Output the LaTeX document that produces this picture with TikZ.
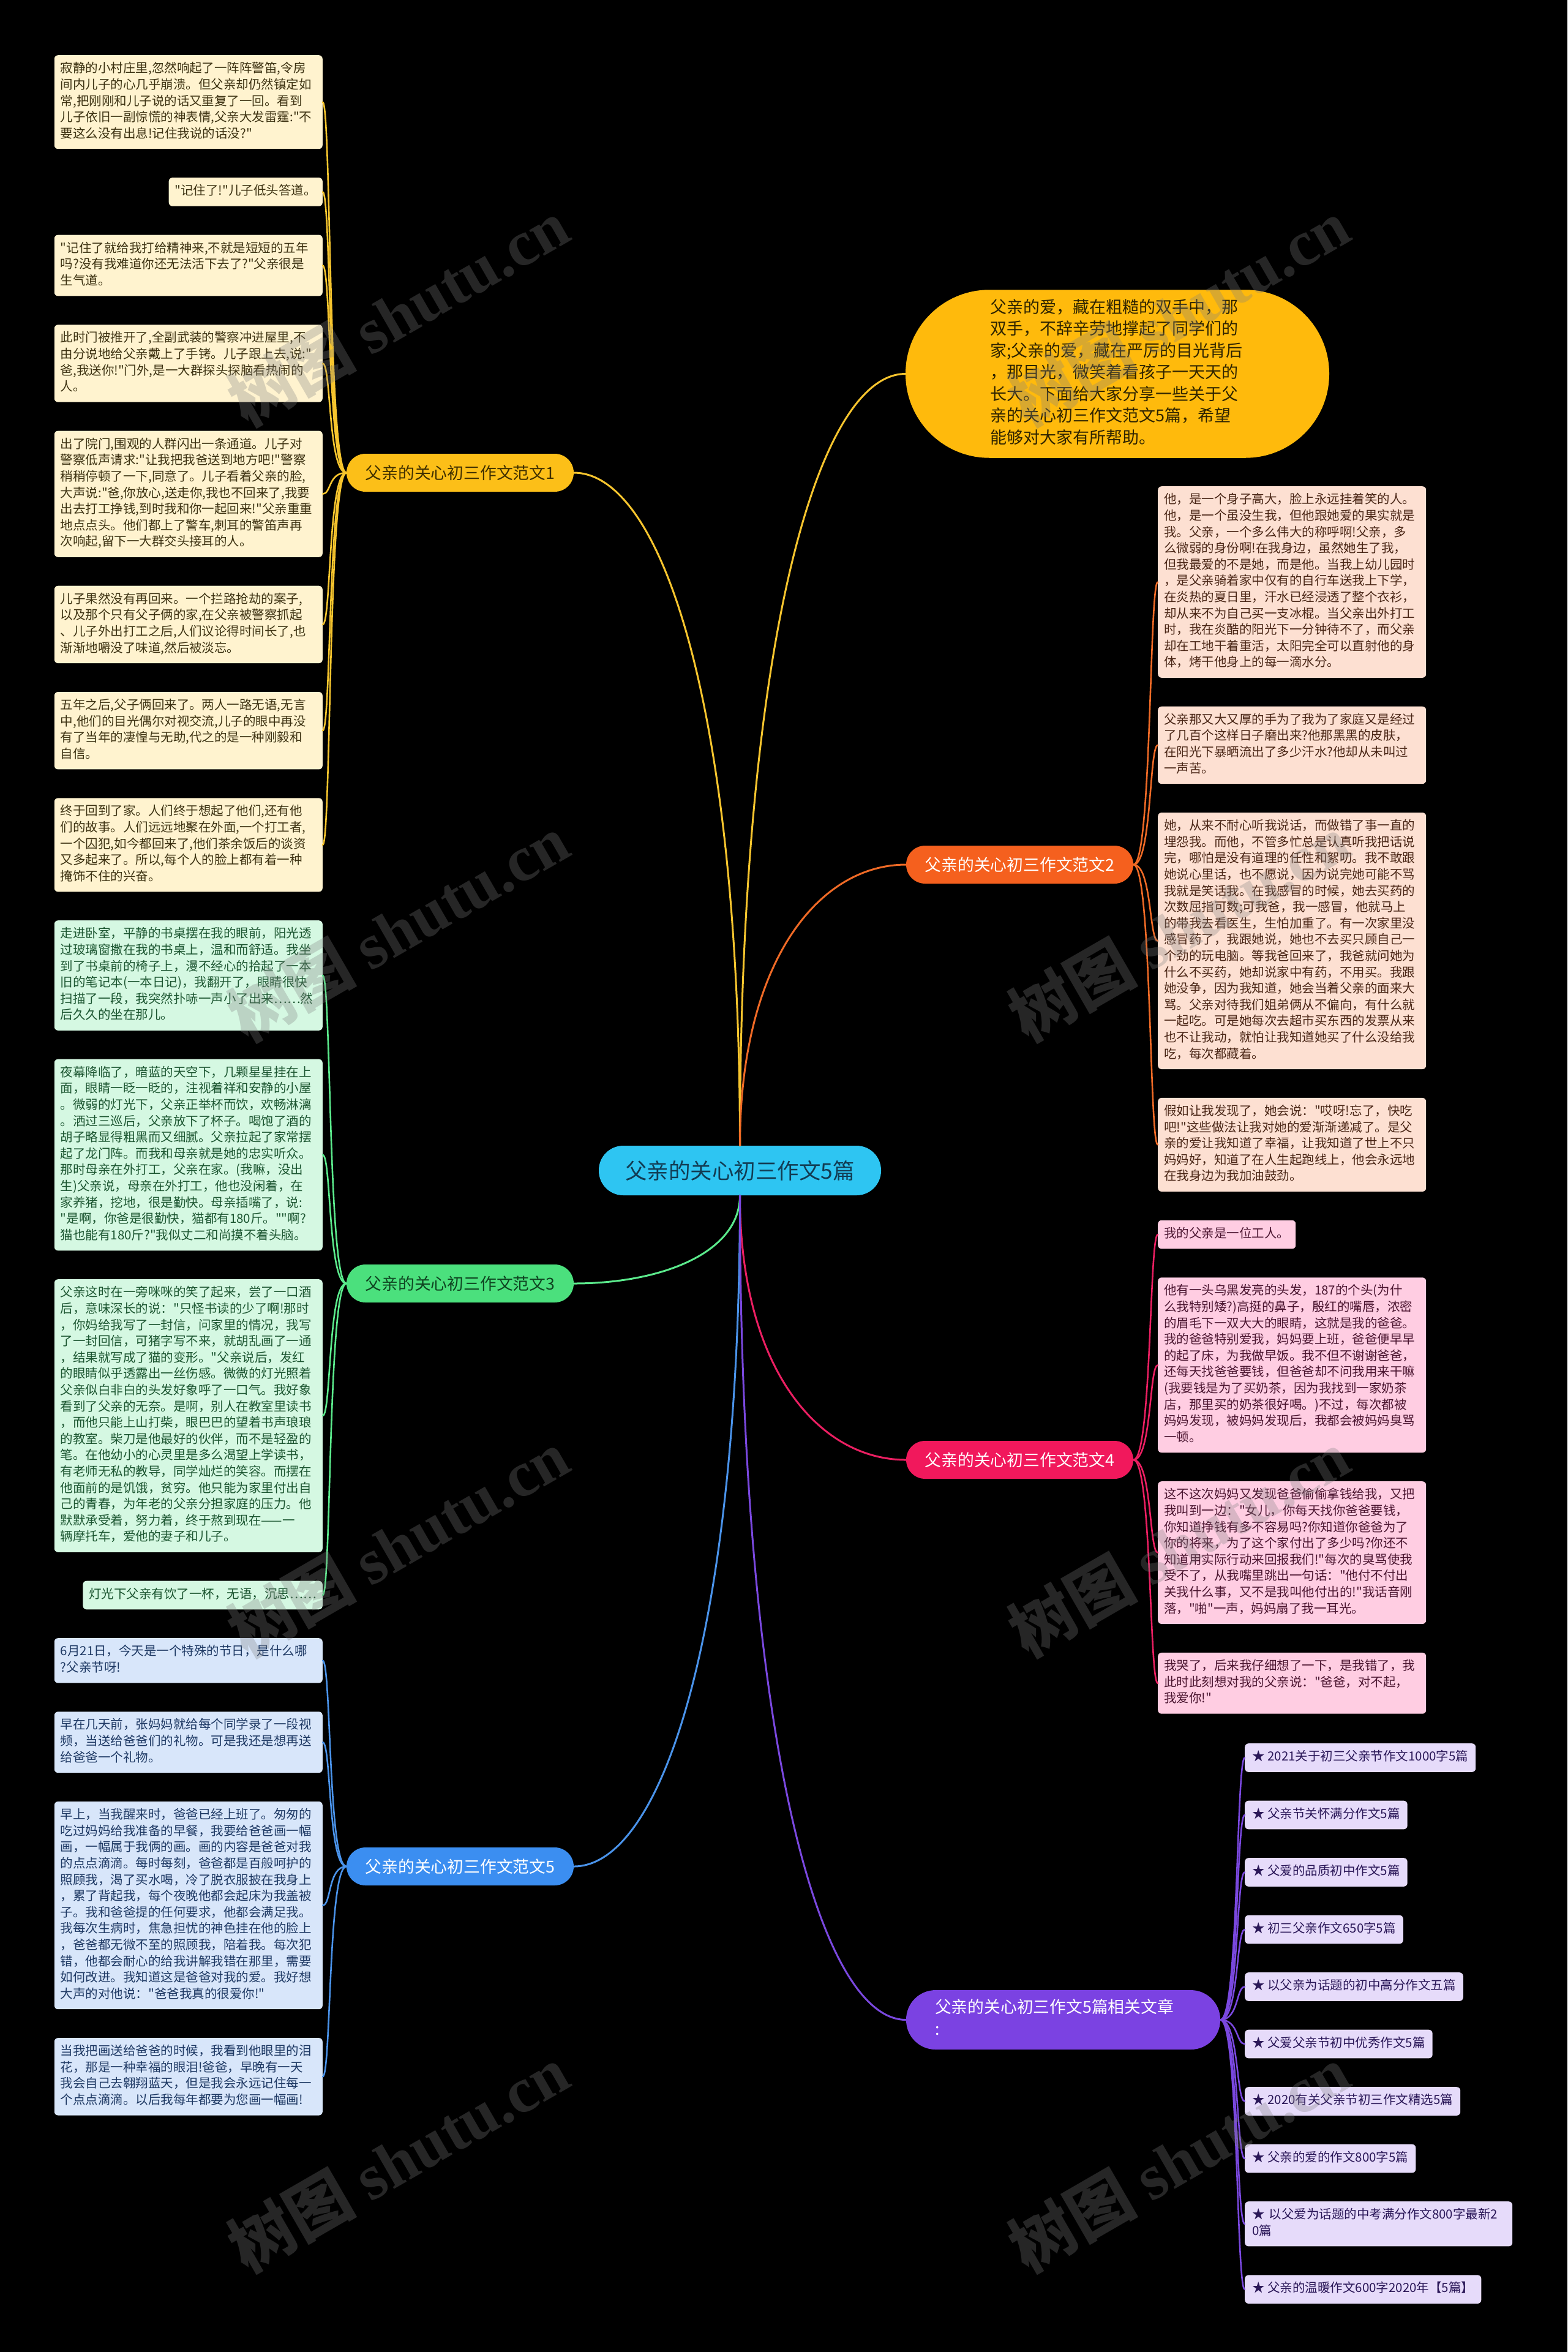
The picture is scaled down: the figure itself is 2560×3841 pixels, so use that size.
\documentclass[tikz,border=0pt]{standalone}
\usepackage{fontspec}
\newfontfamily\cjkfont{Noto Sans CJK SC}
\newfontfamily\wmserif{Liberation Serif}
\usetikzlibrary{positioning, calc}

\definecolor{hubfill}{HTML}{2EC5F2}
\definecolor{hubtext}{HTML}{123C53}
\definecolor{bubblefill}{HTML}{FFBA0C}
\definecolor{bubbletext}{HTML}{2E2300}
\definecolor{ylwtopic}{HTML}{FCBF18}
\definecolor{ylwdark}{HTML}{3F2F00}
\definecolor{ylwline}{HTML}{F7C52E}
\definecolor{ylwleaf}{HTML}{FFF3CF}
\definecolor{ylwtext}{HTML}{3D3212}
\definecolor{orgtopic}{HTML}{F5601E}
\definecolor{orgline}{HTML}{EF6A26}
\definecolor{orgleaf}{HTML}{FDE0D2}
\definecolor{orgtext}{HTML}{4A2616}
\definecolor{grntopic}{HTML}{4BE07D}
\definecolor{grndark}{HTML}{0F4421}
\definecolor{grnline}{HTML}{5BEA8C}
\definecolor{grnleaf}{HTML}{D5F8E2}
\definecolor{grntext}{HTML}{1C5631}
\definecolor{magtopic}{HTML}{F1185C}
\definecolor{magline}{HTML}{EB1F62}
\definecolor{magleaf}{HTML}{FFCDE2}
\definecolor{magtext}{HTML}{4B1530}
\definecolor{blutopic}{HTML}{3B8EF1}
\definecolor{bluline}{HTML}{4A93EA}
\definecolor{bluleaf}{HTML}{D8E6FA}
\definecolor{blutext}{HTML}{1E3964}
\definecolor{purtopic}{HTML}{7B42E2}
\definecolor{purline}{HTML}{7A48DF}
\definecolor{purleaf}{HTML}{E6DBFA}
\definecolor{purtext}{HTML}{2A1758}

\begin{document}
\cjkfont
\begin{tikzpicture}[
	x=1pt, y=-1pt,
	every node/.style={font=\fontsize{20.5}{26.6}\selectfont},
	hub/.style={fill=hubfill, text=hubtext, rounded corners=40pt,
		minimum width=461pt, minimum height=81pt, inner sep=0pt,
		font=\fontsize{35.5}{47}\selectfont},
	topic/.style={rounded corners=31pt, minimum width=371pt,
		minimum height=62pt, inner sep=0pt,
		font=\fontsize{26.8}{36}\selectfont},
	card/.style={rounded corners=6pt, inner xsep=10pt, inner ysep=10pt,
		align=left, execute at begin node=\strut,
		execute at end node=\strut},
	leaf/.style={card, text width=418pt, fill=#1leaf, text=#1text},
	tag/.style={card, fill=#1leaf, text=#1text},
	item/.style={card, inner xsep=12pt, fill=purleaf, text=purtext},
	bubble/.style={fill=bubblefill, text=bubbletext, rounded corners=137pt,
		text width=416pt, align=left, inner xsep=138pt, inner ysep=13pt,
		font=\fontsize{27}{35.5}\selectfont,
		execute at begin node=\strut, execute at end node=\strut},
	hublink/.style={line width=3pt, line cap=round, to path={.. controls
		($(\tikztostart)!0.65!(\tikztostart|-\tikztotarget)$) and
		($(\tikztotarget)!0.53!(\tikztotarget-|\tikztostart)$) ..
		(\tikztotarget)}},
	leftlink/.style={line width=2.6pt, line cap=round, to path={.. controls
		([xshift=-30pt]\tikztostart) and ([xshift=14pt]\tikztotarget) ..
		(\tikztotarget)}},
	rightlink/.style={line width=2.6pt, line cap=round, to path={.. controls
		([xshift=30pt]\tikztostart) and ([xshift=-14pt]\tikztotarget) ..
		(\tikztotarget)}},
	wm/.style={rotate=30, text=gray, opacity=0.3,
		font=\fontsize{105}{105}\selectfont\bfseries},
	]
	% =============================================================
	%  BACKGROUND
	% =============================================================
	\path[use as bounding box, fill=black] (0,0) rectangle (2560,3841);

	% =============================================================
	%  CENTRE, INTRO AND MAIN TOPICS
	% =============================================================
	% --- Centre ---
	\node[hub] (root) at (1208.5,1911.5) {父亲的关心初三作文5篇};

	% --- Intro bubble ---
	\node[bubble] (intro) at (1825,610.5)
	{父亲的爱，藏在粗糙的双手中，那\\
		双手，不辞辛劳地撑起了同学们的\\
		家;父亲的爱，藏在严厉的目光背后\\
		，那目光，微笑着看孩子一天天的\\
		长大。下面给大家分享一些关于父\\
		亲的关心初三作文范文5篇，希望\\
		能够对大家有所帮助。};

	% --- Topics ---
	\node[topic, fill=ylwtopic, text=ylwdark] (t1) at (751.5,772)
	{父亲的关心初三作文范文1};
	\node[topic, fill=orgtopic, text=white] (t2) at (1665.5,1412)
	{父亲的关心初三作文范文2};
	\node[topic, fill=grntopic, text=grndark] (t3) at (751.5,2096)
	{父亲的关心初三作文范文3};
	\node[topic, fill=magtopic, text=white] (t4) at (1665.5,2384)
	{父亲的关心初三作文范文4};
	\node[topic, fill=blutopic, text=white] (t5) at (751.5,3048)
	{父亲的关心初三作文范文5};
	\node[topic, fill=purtopic, text=white, minimum width=513pt,
	minimum height=97pt, rounded corners=48pt, text width=419pt,
	align=left, inner xsep=47pt, execute at begin node=\strut,
	execute at end node=\strut] (t6) at (1736.5,3298.5)
	{父亲的关心初三作文5篇相关文章\\:};

	% =============================================================
	%  LEFT COLUMN
	% =============================================================
	% --- Essay 1 ---
	\node[leaf=ylw, anchor=north east] (l1a) at (527,90)
	{寂静的小村庄里,忽然响起了一阵阵警笛,令房\\
		间内儿子的心几乎崩溃。但父亲却仍然镇定如\\
		常,把刚刚和儿子说的话又重复了一回。看到\\
		儿子依旧一副惊慌的神表情,父亲大发雷霆:"不\\
		要这么没有出息!记住我说的话没?"};
	\node[tag=ylw, below=46.5pt of l1a.south east, anchor=north east] (l1b)
	{"记住了!"儿子低头答道。};
	\node[leaf=ylw, below=46.5pt of l1b.south east, anchor=north east] (l1c)
	{"记住了就给我打给精神来,不就是短短的五年\\
		吗?没有我难道你还无法活下去了?"父亲很是\\
		生气道。};
	\node[leaf=ylw, below=46.5pt of l1c.south east, anchor=north east] (l1d)
	{此时门被推开了,全副武装的警察冲进屋里,不\\
		由分说地给父亲戴上了手铐。儿子跟上去,说:"\\
		爸,我送你!"门外,是一大群探头探脑看热闹的\\
		人。};
	\node[leaf=ylw, below=46.5pt of l1d.south east, anchor=north east] (l1e)
	{出了院门,围观的人群闪出一条通道。儿子对\\
		警察低声请求:"让我把我爸送到地方吧!"警察\\
		稍稍停顿了一下,同意了。儿子看着父亲的脸,\\
		大声说:"爸,你放心,送走你,我也不回来了,我要\\
		出去打工挣钱,到时我和你一起回来!"父亲重重\\
		地点点头。他们都上了警车,刺耳的警笛声再\\
		次响起,留下一大群交头接耳的人。};
	\node[leaf=ylw, below=46.5pt of l1e.south east, anchor=north east] (l1f)
	{儿子果然没有再回来。一个拦路抢劫的案子,\\
		以及那个只有父子俩的家,在父亲被警察抓起\\
		、儿子外出打工之后,人们议论得时间长了,也\\
		渐渐地嚼没了味道,然后被淡忘。};
	\node[leaf=ylw, below=46.5pt of l1f.south east, anchor=north east] (l1g)
	{五年之后,父子俩回来了。两人一路无语,无言\\
		中,他们的目光偶尔对视交流,儿子的眼中再没\\
		有了当年的凄惶与无助,代之的是一种刚毅和\\
		自信。};
	\node[leaf=ylw, below=46.5pt of l1g.south east, anchor=north east] (l1h)
	{终于回到了家。人们终于想起了他们,还有他\\
		们的故事。人们远远地聚在外面,一个打工者,\\
		一个囚犯,如今都回来了,他们茶余饭后的谈资\\
		又多起来了。所以,每个人的脸上都有着一种\\
		掩饰不住的兴奋。};

	% --- Essay 3 ---
	\node[leaf=grn, below=46.5pt of l1h.south east, anchor=north east] (l3a)
	{走进卧室，平静的书桌摆在我的眼前，阳光透\\
		过玻璃窗撒在我的书桌上，温和而舒适。我坐\\
		到了书桌前的椅子上，漫不经心的拾起了一本\\
		旧的笔记本(一本日记)，我翻开了，眼睛很快\\
		扫描了一段，我突然扑哧一声小了出来……然\\
		后久久的坐在那儿。};
	\node[leaf=grn, below=46.5pt of l3a.south east, anchor=north east] (l3b)
	{夜幕降临了，暗蓝的天空下，几颗星星挂在上\\
		面，眼睛一眨一眨的，注视着祥和安静的小屋\\
		。微弱的灯光下，父亲正举杯而饮，欢畅淋漓\\
		。洒过三巡后，父亲放下了杯子。喝饱了酒的\\
		胡子略显得粗黑而又细腻。父亲拉起了家常摆\\
		起了龙门阵。而我和母亲就是她的忠实听众。\\
		那时母亲在外打工，父亲在家。(我嘛，没出\\
		生)父亲说，母亲在外打工，他也没闲着，在\\
		家养猪，挖地，很是勤快。母亲插嘴了，说:\\
		"是啊，你爸是很勤快，猫都有180斤。""啊?\\
		猫也能有180斤?"我似丈二和尚摸不着头脑。};
	\node[leaf=grn, below=46.5pt of l3b.south east, anchor=north east] (l3c)
	{父亲这时在一旁咪咪的笑了起来，尝了一口酒\\
		后，意味深长的说："只怪书读的少了啊!那时\\
		，你妈给我写了一封信，问家里的情况，我写\\
		了一封回信，可猪字写不来，就胡乱画了一通\\
		，结果就写成了猫的变形。"父亲说后，发红\\
		的眼睛似乎透露出一丝伤感。微微的灯光照着\\
		父亲似白非白的头发好象呼了一口气。我好象\\
		看到了父亲的无奈。是啊，别人在教室里读书\\
		，而他只能上山打柴，眼巴巴的望着书声琅琅\\
		的教室。柴刀是他最好的伙伴，而不是轻盈的\\
		笔。在他幼小的心灵里是多么渴望上学读书，\\
		有老师无私的教导，同学灿烂的笑容。而摆在\\
		他面前的是饥饿，贫穷。他只能为家里付出自\\
		己的青春，为年老的父亲分担家庭的压力。他\\
		默默承受着，努力着，终于熬到现在——一\\
		辆摩托车，爱他的妻子和儿子。};
	\node[tag=grn, below=46.5pt of l3c.south east, anchor=north east] (l3d)
	{灯光下父亲有饮了一杯，无语，沉思……};

	% --- Essay 5 ---
	\node[leaf=blu, below=46.5pt of l3d.south east, anchor=north east] (l5a)
	{6月21日，今天是一个特殊的节日，是什么哪\\
		?父亲节呀!};
	\node[leaf=blu, below=46.5pt of l5a.south east, anchor=north east] (l5b)
	{早在几天前，张妈妈就给每个同学录了一段视\\
		频，当送给爸爸们的礼物。可是我还是想再送\\
		给爸爸一个礼物。};
	\node[leaf=blu, below=46.5pt of l5b.south east, anchor=north east] (l5c)
	{早上，当我醒来时，爸爸已经上班了。匆匆的\\
		吃过妈妈给我准备的早餐，我要给爸爸画一幅\\
		画，一幅属于我俩的画。画的内容是爸爸对我\\
		的点点滴滴。每时每刻，爸爸都是百般呵护的\\
		照顾我，渴了买水喝，冷了脱衣服披在我身上\\
		，累了背起我，每个夜晚他都会起床为我盖被\\
		子。我和爸爸提的任何要求，他都会满足我。\\
		我每次生病时，焦急担忧的神色挂在他的脸上\\
		，爸爸都无微不至的照顾我，陪着我。每次犯\\
		错，他都会耐心的给我讲解我错在那里，需要\\
		如何改进。我知道这是爸爸对我的爱。我好想\\
		大声的对他说："爸爸我真的很爱你!"};
	\node[leaf=blu, below=46.5pt of l5c.south east, anchor=north east] (l5d)
	{当我把画送给爸爸的时候，我看到他眼里的泪\\
		花，那是一种幸福的眼泪!爸爸，早晚有一天\\
		我会自己去翱翔蓝天，但是我会永远记住每一\\
		个点点滴滴。以后我每年都要为您画一幅画!};

	% =============================================================
	%  RIGHT COLUMN
	% =============================================================
	% --- Essay 2 ---
	\node[leaf=org, anchor=north west] (r2a) at (1891,794)
	{他，是一个身子高大，脸上永远挂着笑的人。\\
		他，是一个虽没生我，但他跟她爱的果实就是\\
		我。父亲，一个多么伟大的称呼啊!父亲，多\\
		么微弱的身份啊!在我身边，虽然她生了我，\\
		但我最爱的不是她，而是他。当我上幼儿园时\\
		，是父亲骑着家中仅有的自行车送我上下学，\\
		在炎热的夏日里，汗水已经浸透了整个衣衫，\\
		却从来不为自己买一支冰棍。当父亲出外打工\\
		时，我在炎酷的阳光下一分钟待不了，而父亲\\
		却在工地干着重活，太阳完全可以直射他的身\\
		体，烤干他身上的每一滴水分。};
	\node[leaf=org, below=46.5pt of r2a.south west, anchor=north west] (r2b)
	{父亲那又大又厚的手为了我为了家庭又是经过\\
		了几百个这样日子磨出来?他那黑黑的皮肤，\\
		在阳光下暴晒流出了多少汗水?他却从未叫过\\
		一声苦。};
	\node[leaf=org, below=46.5pt of r2b.south west, anchor=north west] (r2c)
	{她，从来不耐心听我说话，而做错了事一直的\\
		埋怨我。而他，不管多忙总是认真听我把话说\\
		完，哪怕是没有道理的任性和絮叨。我不敢跟\\
		她说心里话，也不愿说，因为说完她可能不骂\\
		我就是笑话我。在我感冒的时候，她去买药的\\
		次数屈指可数;可我爸，我一感冒，他就马上\\
		的带我去看医生，生怕加重了。有一次家里没\\
		感冒药了，我跟她说，她也不去买只顾自己一\\
		个劲的玩电脑。等我爸回来了，我爸就问她为\\
		什么不买药，她却说家中有药，不用买。我跟\\
		她没争，因为我知道，她会当着父亲的面来大\\
		骂。父亲对待我们姐弟俩从不偏向，有什么就\\
		一起吃。可是她每次去超市买东西的发票从来\\
		也不让我动，就怕让我知道她买了什么没给我\\
		吃，每次都藏着。};
	\node[leaf=org, below=46.5pt of r2c.south west, anchor=north west] (r2d)
	{假如让我发现了，她会说："哎呀!忘了，快吃\\
		吧!"这些做法让我对她的爱渐渐递减了。是父\\
		亲的爱让我知道了幸福，让我知道了世上不只\\
		妈妈好，知道了在人生起跑线上，他会永远地\\
		在我身边为我加油鼓劲。};

	% --- Essay 4 ---
	\node[tag=mag, below=46.5pt of r2d.south west, anchor=north west] (r4a)
	{我的父亲是一位工人。};
	\node[leaf=mag, below=46.5pt of r4a.south west, anchor=north west] (r4b)
	{他有一头乌黑发亮的头发，187的个头(为什\\
		么我特别矮?)高挺的鼻子，殷红的嘴唇，浓密\\
		的眉毛下一双大大的眼睛，这就是我的爸爸。\\
		我的爸爸特别爱我，妈妈要上班，爸爸便早早\\
		的起了床，为我做早饭。我不但不谢谢爸爸，\\
		还每天找爸爸要钱，但爸爸却不问我用来干嘛\\
		(我要钱是为了买奶茶，因为我找到一家奶茶\\
		店，那里买的奶茶很好喝。)不过，每次都被\\
		妈妈发现，被妈妈发现后，我都会被妈妈臭骂\\
		一顿。};
	\node[leaf=mag, below=46.5pt of r4b.south west, anchor=north west] (r4c)
	{这不这次妈妈又发现爸爸偷偷拿钱给我，又把\\
		我叫到一边："女儿，你每天找你爸爸要钱，\\
		你知道挣钱有多不容易吗?你知道你爸爸为了\\
		你的将来，为了这个家付出了多少吗?你还不\\
		知道用实际行动来回报我们!"每次的臭骂使我\\
		受不了，从我嘴里跳出一句话："他付不付出\\
		关我什么事，又不是我叫他付出的!"我话音刚\\
		落，"啪"一声，妈妈扇了我一耳光。};
	\node[leaf=mag, below=46.5pt of r4c.south west, anchor=north west] (r4d)
	{我哭了，后来我仔细想了一下，是我错了，我\\
		此时此刻想对我的父亲说："爸爸，对不起，\\
		我爱你!"};

	% --- Related articles ---
	\node[item, anchor=north west] (a1) at (2033,2847)
	{★ 2021关于初三父亲节作文1000字5篇};
	\node[item, below=46.5pt of a1.south west, anchor=north west] (a2)
	{★ 父亲节关怀满分作文5篇};
	\node[item, below=46.5pt of a2.south west, anchor=north west] (a3)
	{★ 父爱的品质初中作文5篇};
	\node[item, below=46.5pt of a3.south west, anchor=north west] (a4)
	{★ 初三父亲作文650字5篇};
	\node[item, below=46.5pt of a4.south west, anchor=north west] (a5)
	{★ 以父亲为话题的初中高分作文五篇};
	\node[item, below=46.5pt of a5.south west, anchor=north west] (a6)
	{★ 父爱父亲节初中优秀作文5篇};
	\node[item, below=46.5pt of a6.south west, anchor=north west] (a7)
	{★ 2020有关父亲节初三作文精选5篇};
	\node[item, below=46.5pt of a7.south west, anchor=north west] (a8)
	{★ 父亲的爱的作文800字5篇};
	\node[item, text width=413pt, below=46.5pt of a8.south west,
	anchor=north west] (a9)
	{★ 以父爱为话题的中考满分作文800字最新2\\0篇};
	\node[item, below=46.5pt of a9.south west, anchor=north west] (a10)
	{★ 父亲的温暖作文600字2020年【5篇】};

	% ---- LINKS: centre to topics ----
	\draw[hublink, ylwline] (root.north) to (intro.west);
	\draw[hublink, ylwline] (root.north) to (t1.east);
	\draw[hublink, orgline] (root.north) to (t2.west);
	\draw[hublink, grnline] (root.south) to (t3.east);
	\draw[hublink, magline] (root.south) to (t4.west);
	\draw[hublink, bluline] (root.south) to (t5.east);
	\draw[hublink, purline] (root.south) to (t6.west);

	% ---- LINKS: topics to leaves ----
	\draw[leftlink, ylwline] (t1.west) to (l1a.east);
	\draw[leftlink, ylwline] (t1.west) to (l1b.east);
	\draw[leftlink, ylwline] (t1.west) to (l1c.east);
	\draw[leftlink, ylwline] (t1.west) to (l1d.east);
	\draw[leftlink, ylwline] (t1.west) to (l1e.east);
	\draw[leftlink, ylwline] (t1.west) to (l1f.east);
	\draw[leftlink, ylwline] (t1.west) to (l1g.east);
	\draw[leftlink, ylwline] (t1.west) to (l1h.east);
	\draw[leftlink, grnline] (t3.west) to (l3a.east);
	\draw[leftlink, grnline] (t3.west) to (l3b.east);
	\draw[leftlink, grnline] (t3.west) to (l3c.east);
	\draw[leftlink, grnline] (t3.west) to (l3d.east);
	\draw[leftlink, bluline] (t5.west) to (l5a.east);
	\draw[leftlink, bluline] (t5.west) to (l5b.east);
	\draw[leftlink, bluline] (t5.west) to (l5c.east);
	\draw[leftlink, bluline] (t5.west) to (l5d.east);
	\draw[rightlink, orgline] (t2.east) to (r2a.west);
	\draw[rightlink, orgline] (t2.east) to (r2b.west);
	\draw[rightlink, orgline] (t2.east) to (r2c.west);
	\draw[rightlink, orgline] (t2.east) to (r2d.west);
	\draw[rightlink, magline] (t4.east) to (r4a.west);
	\draw[rightlink, magline] (t4.east) to (r4b.west);
	\draw[rightlink, magline] (t4.east) to (r4c.west);
	\draw[rightlink, magline] (t4.east) to (r4d.west);
	\draw[rightlink, purline] (t6.east) to (a1.west);
	\draw[rightlink, purline] (t6.east) to (a2.west);
	\draw[rightlink, purline] (t6.east) to (a3.west);
	\draw[rightlink, purline] (t6.east) to (a4.west);
	\draw[rightlink, purline] (t6.east) to (a5.west);
	\draw[rightlink, purline] (t6.east) to (a6.west);
	\draw[rightlink, purline] (t6.east) to (a7.west);
	\draw[rightlink, purline] (t6.east) to (a8.west);
	\draw[rightlink, purline] (t6.east) to (a9.west);
	\draw[rightlink, purline] (t6.east) to (a10.west);

	% ---- watermarks ----
	\node[wm] (wm1) at (650,510) {树图 {\wmserif shutu.cn}};
	\node[wm] (wm2) at (650,1515) {树图 {\wmserif shutu.cn}};
	\node[wm] (wm3) at (650,2520) {树图 {\wmserif shutu.cn}};
	\node[wm] (wm4) at (650,3525) {树图 {\wmserif shutu.cn}};
	\node[wm] (wm5) at (1925,510) {树图 {\wmserif shutu.cn}};
	\node[wm] (wm6) at (1925,1515) {树图 {\wmserif shutu.cn}};
	\node[wm] (wm7) at (1925,2520) {树图 {\wmserif shutu.cn}};
	\node[wm] (wm8) at (1925,3525) {树图 {\wmserif shutu.cn}};
\end{tikzpicture}
\end{document}
